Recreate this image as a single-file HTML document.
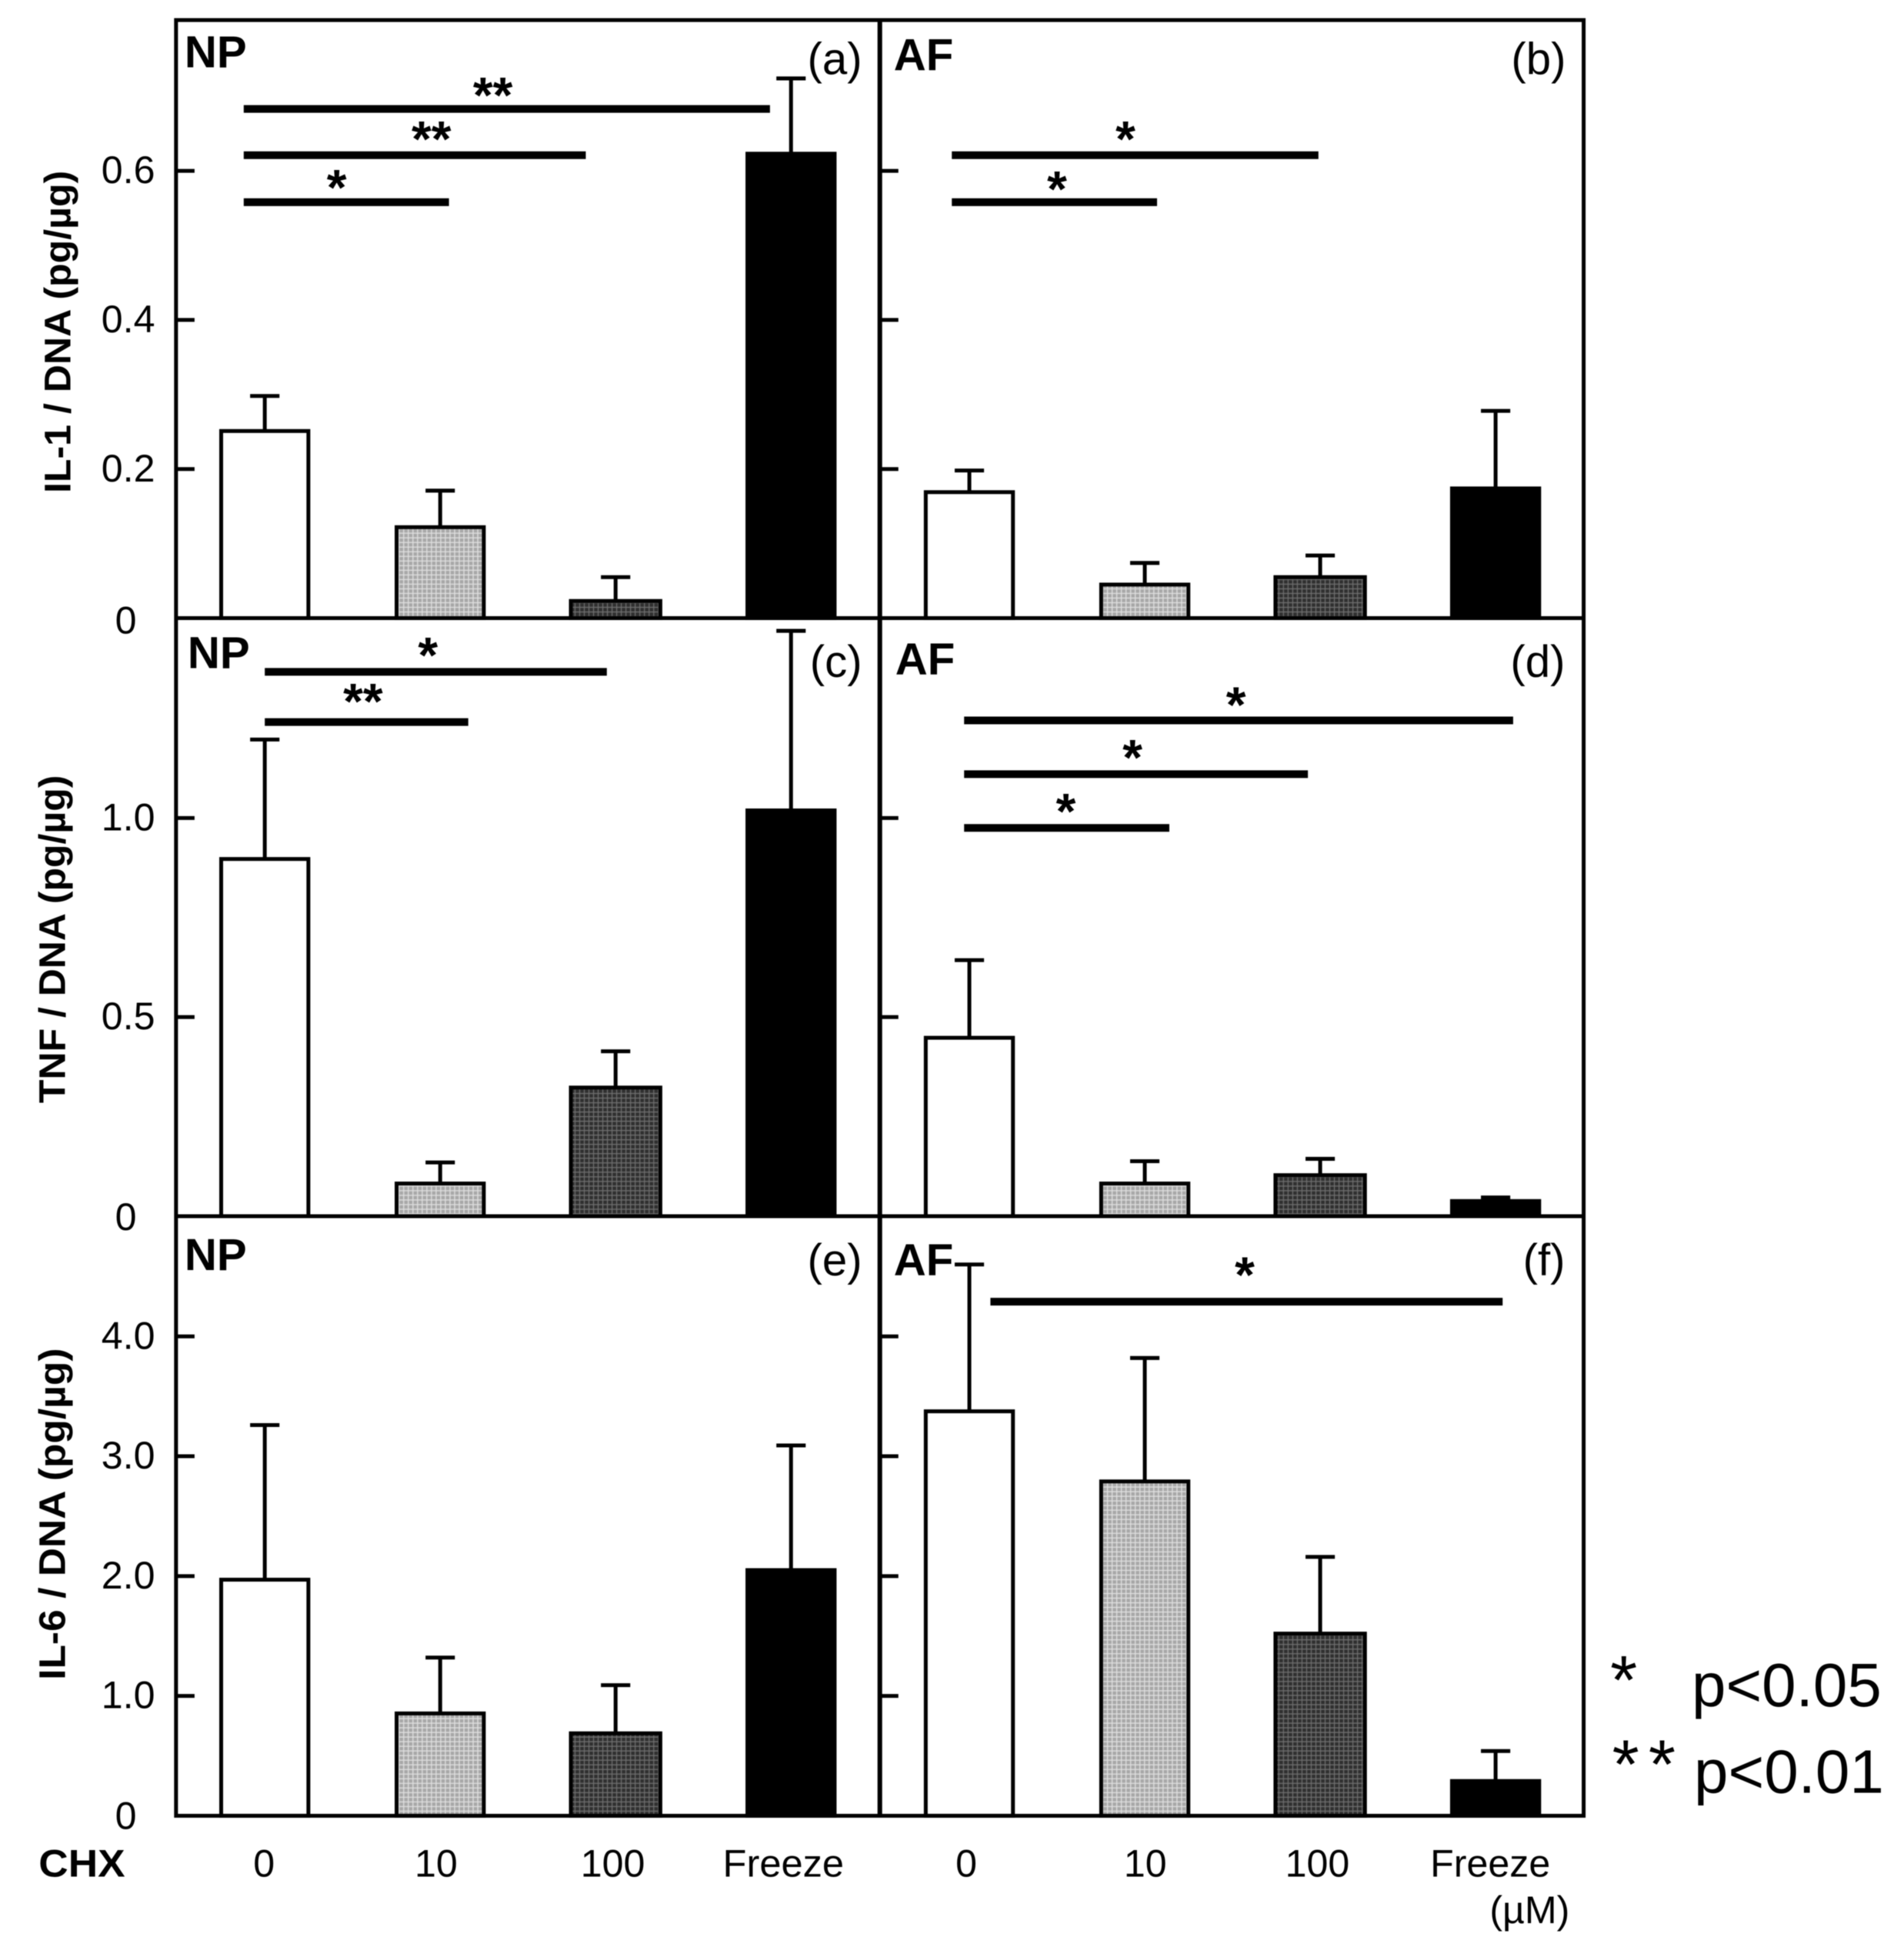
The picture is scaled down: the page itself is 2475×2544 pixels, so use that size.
<!DOCTYPE html>
<html lang="en">
<head>
<meta charset="utf-8">
<title>Cytokine release per DNA by CHX concentration</title>
<style>
html,body{margin:0;padding:0;background:#fff;}
svg{display:block;font-family:"Liberation Sans",sans-serif;fill:#000;filter:blur(0.6px);}
</style>
</head>
<body>
<svg id="chart" xmlns="http://www.w3.org/2000/svg" width="2475" height="2544" viewBox="0 0 2467 2536">
<defs>
<pattern id="lightFill" width="6" height="6" patternUnits="userSpaceOnUse"><rect width="6" height="6" fill="#a8a8a8"/><path d="M0 1H6M1 0V6" stroke="#e0e0e0" stroke-width="1.3"/></pattern>
<pattern id="darkFill" width="6" height="6" patternUnits="userSpaceOnUse"><rect width="6" height="6" fill="#303030"/><path d="M0 1H6M1 0V6" stroke="#707070" stroke-width="1.2"/></pattern>
</defs>
<g id="marks"></g>
<g id="frame" stroke="#000" stroke-width="5" fill="none">
<rect x="228" y="26" width="1824" height="2327"/>
<line x1="1140" y1="26" x2="1140" y2="2353" stroke-width="6"/>
<line x1="228" y1="801" x2="2052" y2="801"/>
<line x1="228" y1="1576" x2="2052" y2="1576"/>
</g>
<g>
<text x="239" y="87" font-size="58" font-weight="700">NP</text>
<text x="1158" y="91" font-size="58" font-weight="700">AF</text>
<text x="243" y="866" font-size="58" font-weight="700">NP</text>
<text x="1160" y="874" font-size="58" font-weight="700">AF</text>
<text x="239" y="1646" font-size="58" font-weight="700">NP</text>
<text x="1158" y="1653" font-size="58" font-weight="700">AF</text>
<text x="1117" y="96" font-size="58" text-anchor="end">(a)</text>
<text x="2029" y="96" font-size="58" text-anchor="end">(b)</text>
<text x="1117" y="877" font-size="58" text-anchor="end">(c)</text>
<text x="2028" y="877" font-size="58" text-anchor="end">(d)</text>
<text x="1117" y="1653" font-size="58" text-anchor="end">(e)</text>
<text x="2028" y="1653" font-size="58" text-anchor="end">(f)</text>
</g>
<g font-weight="700" font-size="48">
<text transform="translate(91,430) rotate(-90)" text-anchor="middle" textLength="418" lengthAdjust="spacingAndGlyphs">IL-1 / DNA (pg/µg)</text>
<text transform="translate(84,1217) rotate(-90)" text-anchor="middle" textLength="425" lengthAdjust="spacingAndGlyphs">TNF / DNA (pg/µg)</text>
<text transform="translate(84,1962) rotate(-90)" text-anchor="middle" textLength="430" lengthAdjust="spacingAndGlyphs">IL-6 / DNA (pg/µg)</text>
</g>
<g font-size="50">
<text x="50" y="2432" font-size="50" font-weight="700" textLength="112" lengthAdjust="spacingAndGlyphs">CHX</text>
<text x="342" y="2432" text-anchor="middle">0</text>
<text x="565" y="2432" text-anchor="middle">10</text>
<text x="794" y="2432" text-anchor="middle">100</text>
<text x="1015" y="2432" text-anchor="middle" textLength="157" lengthAdjust="spacingAndGlyphs">Freeze</text>
<text x="1252" y="2432" text-anchor="middle">0</text>
<text x="1484" y="2432" text-anchor="middle">10</text>
<text x="1707" y="2432" text-anchor="middle">100</text>
<text x="1931" y="2432" text-anchor="middle">Freeze</text>
<text x="1982" y="2492" font-size="50" text-anchor="middle">(µM)</text>
</g>
<g font-size="80">
<text x="2104" y="2208" font-size="90" text-anchor="middle">*</text>
<text x="2192" y="2211" textLength="246" lengthAdjust="spacingAndGlyphs">p&lt;0.05</text>
<text x="2136" y="2317" font-size="90" text-anchor="middle" letter-spacing="12">**</text>
<text x="2195" y="2323" textLength="246" lengthAdjust="spacingAndGlyphs">p&lt;0.01</text>
</g>
<script>
// ---------- data ----------
const categories = ['0', '10', '100', 'Freeze'];
const il1TickValues = [0.2, 0.4, 0.6];
const il1TickLabels = ['0.2', '0.4', '0.6'];
const tnfTickValues = [0.5, 1.0];
const tnfTickLabels = ['0.5', '1.0'];
const il6TickValues = [1, 2, 3, 4];
const il6TickLabels = ['1.0', '2.0', '3.0', '4.0'];
const il1NpMeans = [0.251, 0.122, 0.023, 0.623];
const il1NpUpper = [0.298, 0.171, 0.055, 0.724];
const il1AfMeans = [0.169, 0.045, 0.055, 0.174];
const il1AfUpper = [0.198, 0.074, 0.084, 0.278];
const tnfNpMeans = [0.897, 0.082, 0.323, 1.019];
const tnfNpUpper = [1.197, 0.135, 0.414, 1.470];
const tnfAfMeans = [0.448, 0.082, 0.103, 0.038];
const tnfAfUpper = [0.643, 0.138, 0.144, 0.047];
const il6NpMeans = [1.97, 0.854, 0.688, 2.05];
const il6NpUpper = [3.26, 1.32, 1.09, 3.09];
const il6AfMeans = [3.375, 2.79, 1.52, 0.29];
const il6AfUpper = [4.60, 3.82, 2.16, 0.54];
// significance: [level, from-category, to-category, stars, star-category, star-level]
const sigA = [[0.683, -0.12, 2.88, '**', 1.30, 0.709], [0.621, -0.12, 1.83, '**', 0.95, 0.650], [0.558, -0.12, 1.05, '*', 0.41, 0.585]];
const sigB = [[0.621, -0.10, 1.99, '*', 0.89, 0.650], [0.558, -0.10, 1.07, '*', 0.50, 0.583]];
const sigC = [[1.367, 0, 1.95, '*', 0.93, 1.423], [1.241, 0, 1.16, '**', 0.56, 1.307]];
const sigD = [[1.245, -0.03, 3.10, '*', 1.52, 1.298], [1.11, -0.03, 1.93, '*', 0.93, 1.166], [0.975, -0.03, 1.14, '*', 0.55, 1.031]];
const sigE = [];
const sigF = [[4.29, 0.12, 3.04, '*', 1.57, 4.56]];

// ---------- axis functions ----------
const SVG_NS = 'http://www.w3.org/2000/svg';
const marks = document.getElementById('marks');
const STEP_X = 227.3;
function xLeft(p) { return 343 + STEP_X * p; }
function xRight(p) { return 1256 + STEP_X * p; }
function yIl1(v) { return 801 - 966 * v; }
function yTnf(v) { return 1576 - 516 * v; }
function yIl6(v) { return 2353 - 155.3 * v; }
function svgEl(tag, attrs, parent) {
  const el = document.createElementNS(SVG_NS, tag);
  for (const k in attrs) el.setAttribute(k, attrs[k]);
  parent.appendChild(el);
  return el;
}
const fills = ['#fff', 'url(#lightFill)', 'url(#darkFill)', '#000'];

function drawBars(panel, means, upper, x, y) {
  categories.forEach(function (cat, i) {
    const cx = x(i);
    const top = y(means[i]);
    const err = y(upper[i]);
    const half = i === 2 ? 58 : 56.5;
    const stem = svgEl('line', {x1: cx, x2: cx, y1: top, y2: err, stroke: '#000', 'stroke-width': 5}, marks);
    
    
    const cap = svgEl('line', {x1: cx - 19, x2: cx + 19, y1: err, y2: err, stroke: '#000', 'stroke-width': 5}, marks);
    
    
    const bar = svgEl('rect', {x: cx - half, y: top, width: half * 2, height: y(0) - top, fill: fills[i], stroke: '#000', 'stroke-width': 5}, marks);
    
    
  });
}
function drawTicks(name, x0, values, labels, y, showLabels) {
  values.forEach(function (v, i) {
    const tick = svgEl('line', {x1: x0, x2: x0 + 24, y1: y(v), y2: y(v), stroke: '#000', 'stroke-width': 5}, marks);
    
    
    if (showLabels) {
      const t = svgEl('text', {x: 166, y: y(v) + 16, 'font-size': 50, 'text-anchor': 'middle'}, marks);
      t.textContent = labels[i];
      
      
    }
  });
}
function drawZero(name, y, dy) {
  const t = svgEl('text', {x: 163, y: y(0) + dy, 'font-size': 50, 'text-anchor': 'middle'}, marks);
  t.textContent = '0';
  
  
}
function drawSig(panel, rows, x, y) {
  rows.forEach(function (r, i) {
    const line = svgEl('line', {x1: x(r[1]), x2: x(r[2]), y1: y(r[0]), y2: y(r[0]), stroke: '#000', 'stroke-width': 10}, marks);
    
    
    const t = svgEl('text', {x: x(r[4]), y: y(r[5]) + 30, 'font-size': 66, 'font-weight': 700, 'text-anchor': 'middle'}, marks);
    t.textContent = r[3];
    
    
  });
}

drawBars('a', il1NpMeans, il1NpUpper, xLeft, yIl1);
drawBars('b', il1AfMeans, il1AfUpper, xRight, yIl1);
drawBars('c', tnfNpMeans, tnfNpUpper, xLeft, yTnf);
drawBars('d', tnfAfMeans, tnfAfUpper, xRight, yTnf);
drawBars('e', il6NpMeans, il6NpUpper, xLeft, yIl6);
drawBars('f', il6AfMeans, il6AfUpper, xRight, yIl6);
drawTicks('il1-left', 228, il1TickValues, il1TickLabels, yIl1, true);
drawTicks('il1-right', 1140, il1TickValues, il1TickLabels, yIl1, false);
drawTicks('tnf-left', 228, tnfTickValues, tnfTickLabels, yTnf, true);
drawTicks('tnf-right', 1140, tnfTickValues, tnfTickLabels, yTnf, false);
drawTicks('il6-left', 228, il6TickValues, il6TickLabels, yIl6, true);
drawTicks('il6-right', 1140, il6TickValues, il6TickLabels, yIl6, false);
drawZero('il1', yIl1, 20);
drawZero('tnf', yTnf, 18);
drawZero('il6', yIl6, 17);
drawSig('a', sigA, xLeft, yIl1);
drawSig('b', sigB, xRight, yIl1);
drawSig('c', sigC, xLeft, yTnf);
drawSig('d', sigD, xRight, yTnf);
drawSig('e', sigE, xLeft, yIl6);
drawSig('f', sigF, xRight, yIl6);
</script>
</svg>
</body>
</html>
